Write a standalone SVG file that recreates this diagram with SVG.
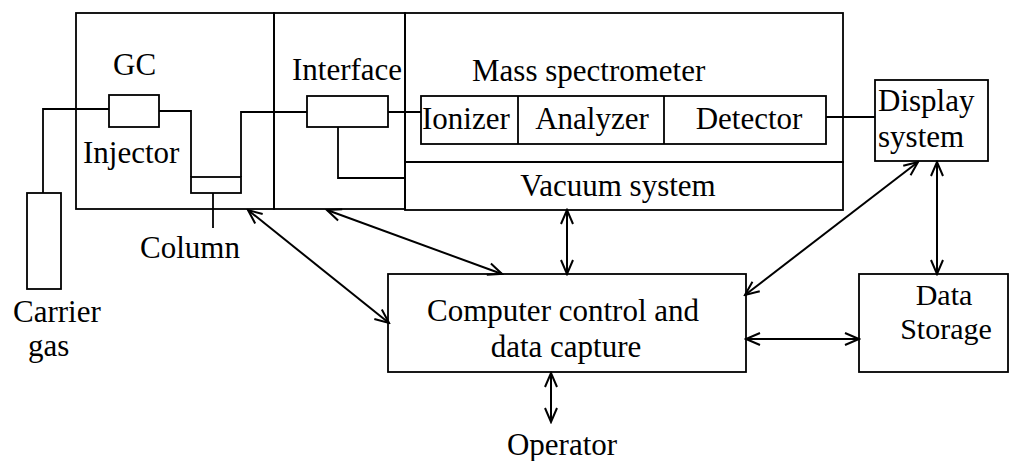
<svg xmlns="http://www.w3.org/2000/svg" width="1011" height="461" viewBox="0 0 1011 461">
<style>
.b{fill:none;stroke:#000;stroke-width:1.8}
.c{fill:none;stroke:#000;stroke-width:2}
text{font-family:"Liberation Serif","Times New Roman",serif;font-size:31px;fill:#000}
.m{text-anchor:middle}
.s{font-size:30px}
</style>
<defs>
<marker id="ah" viewBox="-16 -8 18 16" refX="0" refY="0" markerWidth="18" markerHeight="16" markerUnits="userSpaceOnUse" orient="auto-start-reverse">
<path d="M-14,-6 L0,0 L-14,6" fill="none" stroke="#000" stroke-width="2"/>
</marker>
</defs>
<rect width="1011" height="461" fill="#fff"/>
<g id="gc">
<rect class="b" x="76" y="13" width="198" height="196"/>
<text x="113" y="75">GC</text>
<rect class="b" x="109" y="95" width="50" height="32"/>
<text x="83" y="163">Injector</text>
<rect class="b" x="191" y="177" width="50" height="16"/>
<polyline class="b" points="159,111 191,111 191,177"/>
<polyline class="b" points="241,177 241,112 307,112"/>
<line class="b" x1="213" y1="193" x2="213" y2="228"/>
<text x="140" y="258">Column</text>
</g>
<g id="carrier">
<rect class="b" x="27" y="193" width="34" height="96"/>
<polyline class="b" points="43,193 43,109 109,109"/>
<text x="13" y="322">Carrier</text>
<text x="28" y="356">gas</text>
</g>
<g id="interface">
<rect class="b" x="274" y="13" width="131" height="196"/>
<text x="292" y="80">Interface</text>
<rect class="b" x="307" y="96" width="81" height="31"/>
<line class="b" x1="388" y1="112" x2="421" y2="112"/>
<polyline class="b" points="338,127 338,178 405,178"/>
</g>
<g id="ms">
<rect class="b" x="405" y="13" width="438" height="149"/>
<text x="472" y="81">Mass spectrometer</text>
<rect class="b" x="421" y="96" width="405" height="48"/>
<line class="b" x1="518" y1="96" x2="518" y2="144"/>
<line class="b" x1="664" y1="96" x2="664" y2="144"/>
<text x="422" y="129">Ionizer</text>
<text class="m" x="592" y="129">Analyzer</text>
<text class="m" x="749" y="129">Detector</text>
</g>
<g id="vacuum">
<rect class="b" x="405" y="162" width="438" height="48"/>
<text class="m" x="618" y="196">Vacuum system</text>
</g>
<g id="display">
<rect class="b" x="875" y="80" width="113" height="81"/>
<text x="878" y="111">Display</text>
<text x="878" y="147">system</text>
</g>
<g id="computer">
<rect class="b" x="388" y="274" width="358" height="98"/>
<text class="m" x="563" y="321">Computer control and</text>
<text class="m" x="566" y="357">data capture</text>
</g>
<g id="storage">
<rect class="b" x="859" y="274" width="149" height="98"/>
<text class="m s" x="944" y="305">Data</text>
<text class="m s" x="946" y="339">Storage</text>
</g>
<g id="operator">
<text class="m" x="562" y="455">Operator</text>
</g>
<g id="connectors">
<line class="b" x1="826" y1="117" x2="875" y2="117"/>
<line class="c" x1="248" y1="210" x2="389" y2="323" marker-start="url(#ah)" marker-end="url(#ah)"/>
<line class="c" x1="327" y1="210" x2="502" y2="274" marker-start="url(#ah)" marker-end="url(#ah)"/>
<line class="c" x1="567" y1="210" x2="567" y2="274" marker-start="url(#ah)" marker-end="url(#ah)"/>
<line class="c" x1="918" y1="162" x2="745" y2="295" marker-start="url(#ah)" marker-end="url(#ah)"/>
<line class="c" x1="937" y1="162" x2="937" y2="274" marker-start="url(#ah)" marker-end="url(#ah)"/>
<line class="c" x1="746" y1="339" x2="859" y2="339" marker-start="url(#ah)" marker-end="url(#ah)"/>
<line class="c" x1="551" y1="373" x2="551" y2="422" marker-start="url(#ah)" marker-end="url(#ah)"/>
</g>
</svg>
